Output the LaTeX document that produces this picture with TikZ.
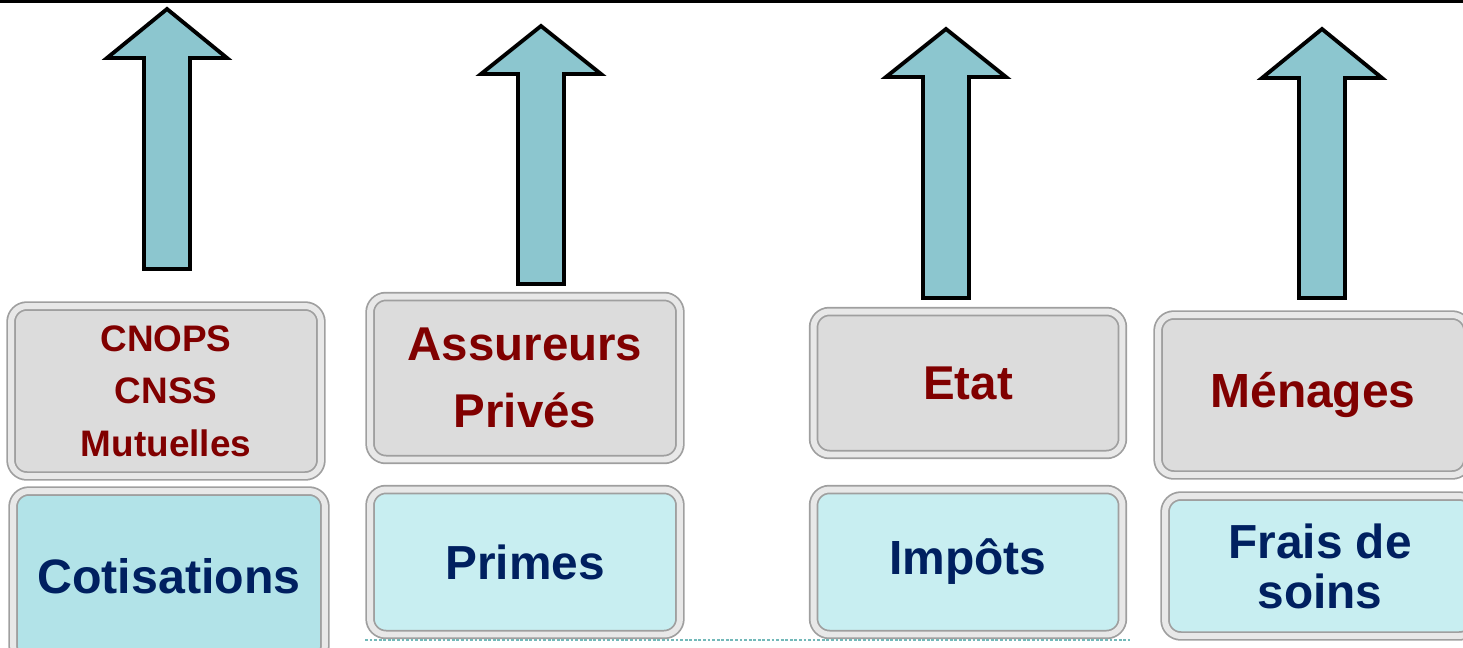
\documentclass[tikz,border=0pt]{standalone}
\usepackage{fontspec}
\setmainfont{Liberation Sans}
\usetikzlibrary{positioning}
\definecolor{arrowfill}{RGB}{140, 198, 207}
\definecolor{payer}{RGB}{220, 220, 220}
\definecolor{flow}{RGB}{200, 238, 241}
\definecolor{flowdark}{RGB}{178, 227, 232}
\definecolor{payertext}{RGB}{128, 0, 0}
\definecolor{flowtext}{RGB}{0, 32, 96}

\begin{document}
\begin{tikzpicture}[
  x=0.02cm, y=-0.02cm,
  every node/.style={font=\bfseries, align=center},
  bevel/.style={
    rounded corners=9pt, draw=gray!75, line width=1pt,
    double=white!82!gray, double distance=3.4pt,
    inner sep=2pt,
  },
  payerbox/.style={bevel, fill=payer, text=payertext},
  flowbox/.style={bevel, fill=flow, text=flowtext},
  uparrow/.style={fill=arrowfill, draw=black, line width=2.2pt, line join=miter},
]
  \useasboundingbox (0,0) rectangle (1463,647);

  \draw[line width=1.8pt] (0,1) -- (1463,1);

  \foreach \cx/\ty/\hy/\by in {167/9/58/269, 541/26/74/284, 946/29/77/298, 1322/29/78/298}
    \draw[uparrow] (\cx,\ty) -- (\cx+60,\hy) -- (\cx+23,\hy) -- (\cx+23,\by)
      -- (\cx-23,\by) -- (\cx-23,\hy) -- (\cx-60,\hy) -- cycle;

  % financing sources
  \node[payerbox, minimum width=6.2cm, minimum height=3.4cm,
        font=\bfseries\fontsize{21}{30}\selectfont] (caisses) at (166,391)
        {CNOPS\\CNSS\\Mutuelles};
  \node[payerbox, minimum width=6.2cm, minimum height=3.26cm,
        font=\bfseries\fontsize{27}{38.5}\selectfont] (assureurs) at (525,378)
        {Assureurs\\Privés};
  \node[payerbox, minimum width=6.18cm, minimum height=2.86cm,
        font=\bfseries\fontsize{27}{30}\selectfont] (etat) at (968,383) {Etat};
  \node[payerbox, minimum width=6.2cm, minimum height=3.2cm,
        font=\bfseries\fontsize{27.3}{30}\selectfont] (menages) at (1313,395)
        {\raisebox{-4pt}{Ménages}};

  % flows
  \node[flowbox, fill=flowdark, minimum width=6.24cm, minimum height=3.4cm,
        font=\bfseries\fontsize{27.5}{30}\selectfont] (cotisations) at (169,576) {Cotisations};
  \node[flowbox, minimum width=6.2cm, minimum height=2.9cm,
        font=\bfseries\fontsize{27.2}{30}\selectfont] (primes) at (525,562) {Primes};
  \node[flowbox, minimum width=6.18cm, minimum height=2.9cm,
        font=\bfseries\fontsize{27.3}{30}\selectfont] (impots) at (968,562)
        {\raisebox{-4pt}{Impôts}};
  \node[flowbox, minimum width=6.2cm, minimum height=2.8cm,
        font=\bfseries\fontsize{27.2}{28.4}\selectfont] (frais) at (1320,566) {Frais de\\soins};

  \draw[draw=teal!55, line width=1.6pt, densely dotted] (365,640) -- (1130,640);
\end{tikzpicture}
\end{document}
